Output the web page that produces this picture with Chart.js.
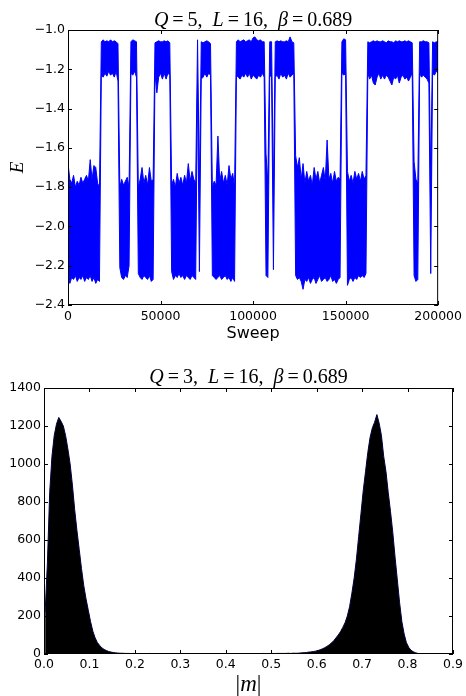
<!DOCTYPE html>
<html>
<head>
<meta charset="utf-8">
<script src="https://cdn.jsdelivr.net/npm/chart.js@4.4.0/dist/chart.umd.min.js"></script>
<style>
  body { margin: 0; background: #fff; }
  canvas { position: absolute; left: 0; }
  #energy { top: 0; }
  #magnet { top: 345px; }
</style>
</head>
<body>
<canvas id="energy" width="466" height="345"></canvas>
<canvas id="magnet" width="466" height="351"></canvas>
<script>
// Q=5 energy trace, read every 1000 sweeps: upper and lower edge of the noisy band
const sweepStep = 1000;
const eTop = [
  -1.68, -1.76, -1.78, -1.74, -1.80, -1.77, -1.79, -1.75, -1.78, -1.76,
  -1.74, -1.77, -1.66, -1.76, -1.69, -1.70, -1.78, -1.80, -1.06, -1.05,
  -1.06, -1.055, -1.06, -1.05, -1.06, -1.055, -1.06, -1.07, -1.80, -1.76,
  -1.79, -1.77, -1.75, -1.80, -1.06, -1.05, -1.055, -1.06, -1.80, -1.76,
  -1.70, -1.78, -1.74, -1.79, -1.70, -1.77, -1.76, -1.065, -1.06, -1.055,
  -1.06, -1.06, -1.055, -1.06, -1.055, -1.065, -1.79, -1.76, -1.80, -1.73,
  -1.78, -1.75, -1.79, -1.74, -1.78, -1.68, -1.77, -1.72, -1.76, -1.78,
  -1.05, -1.80, -1.06, -1.065, -1.06, -1.055, -1.06, -1.07, -1.80, -1.77,
  -1.79, -1.54, -1.77, -1.72, -1.78, -1.74, -1.79, -1.69, -1.76, -1.73,
  -1.80, -1.06, -1.05, -1.06, -1.055, -1.05, -1.06, -1.055, -1.05, -1.06,
  -1.04, -1.035, -1.05, -1.055, -1.05, -1.06, -1.06, -1.63, -1.78, -1.06,
  -1.06, -1.82, -1.06, -1.055, -1.06, -1.055, -1.06, -1.06, -1.055, -1.06,
  -1.035, -1.06, -1.065, -1.64, -1.70, -1.65, -1.76, -1.68, -1.78, -1.72,
  -1.77, -1.74, -1.79, -1.70, -1.76, -1.72, -1.78, -1.74, -1.70, -1.77,
  -1.56, -1.76, -1.73, -1.78, -1.72, -1.77, -1.75, -1.76, -1.06, -1.045,
  -1.05, -1.72, -1.77, -1.74, -1.78, -1.72, -1.76, -1.73, -1.77, -1.72,
  -1.76, -1.74, -1.06, -1.065, -1.06, -1.055, -1.06, -1.055, -1.06, -1.06,
  -1.055, -1.06, -1.065, -1.055, -1.06, -1.06, -1.065, -1.055, -1.06, -1.055,
  -1.06, -1.06, -1.055, -1.06, -1.055, -1.06, -1.065, -1.67, -1.76, -1.78,
  -1.06, -1.06, -1.055, -1.06, -1.06, -1.065, -1.76, -1.06, -1.065, -1.06,
  -1.06
];
const eBottom = [
  -2.25, -2.29, -2.26, -2.27, -2.25, -2.28, -2.26, -2.27, -2.25, -2.28,
  -2.26, -2.27, -2.25, -2.28, -2.26, -2.29, -2.27, -2.28, -1.23, -1.24,
  -1.22, -1.235, -1.21, -1.23, -1.22, -1.24, -1.21, -1.26, -2.21, -2.26,
  -2.27, -2.25, -2.26, -2.20, -1.22, -1.23, -1.21, -1.24, -2.24, -2.26,
  -2.27, -2.25, -2.26, -2.27, -2.25, -2.28, -2.27, -1.22, -1.32, -1.24,
  -1.22, -1.25, -1.22, -1.25, -1.22, -1.23, -2.23, -2.27, -2.25, -2.26,
  -2.24, -2.26, -2.25, -2.27, -2.25, -2.26, -2.27, -2.25, -2.26, -2.27,
  -1.27, -2.23, -1.25, -1.24, -1.22, -1.24, -1.22, -1.23, -2.25, -2.26,
  -2.27, -2.26, -2.25, -2.27, -2.26, -2.25, -2.27, -2.26, -2.28, -2.26,
  -2.28, -1.23, -1.24, -1.25, -1.23, -1.24, -1.22, -1.24, -1.22, -1.25,
  -1.23, -1.24, -1.25, -1.23, -1.24, -1.22, -1.24, -2.25, -2.26, -1.23,
  -1.24, -2.22, -1.24, -1.23, -1.25, -1.22, -1.24, -1.23, -1.25, -1.22,
  -1.24, -1.23, -1.22, -2.25, -2.27, -2.26, -2.28, -2.32, -2.27, -2.28,
  -2.26, -2.29, -2.27, -2.26, -2.29, -2.27, -2.25, -2.28, -2.27, -2.26,
  -2.28, -2.27, -2.25, -2.28, -2.27, -2.29, -2.27, -2.26, -1.22, -1.23,
  -1.22, -2.30, -2.27, -2.26, -2.28, -2.26, -2.27, -2.25, -2.26, -2.25,
  -2.26, -2.24, -1.22, -1.25, -1.23, -1.27, -1.28, -1.24, -1.22, -1.25,
  -1.23, -1.25, -1.23, -1.24, -1.26, -1.28, -1.24, -1.25, -1.23, -1.27,
  -1.24, -1.23, -1.25, -1.24, -1.26, -1.24, -1.22, -2.25, -2.28, -2.27,
  -1.22, -1.24, -1.23, -1.24, -1.25, -1.27, -2.24, -1.22, -1.23, -1.21,
  -1.22
];
const sweep = eTop.map((_, i) => i * sweepStep);

// Q=3 histogram of |m|, bins of width 0.005 from 0 to 0.9
const binWidth = 0.005;
const mCounts = [
  220, 480, 850, 1040, 1150, 1210, 1245, 1225, 1200, 1150,
  1080, 1000, 890, 760, 650, 550, 450, 360, 290, 230,
  170, 120, 85, 60, 45, 32, 24, 18, 13, 10,
  8, 6, 5, 4,
  4, 3, 3, 3, 2, 3, 2, 2, 3, 2,
  2, 2, 3, 2, 2, 2, 1, 2, 2, 2,
  2, 1, 2, 2, 1, 2, 2, 1, 2, 2,
  1, 2, 1, 2, 2, 1, 2, 1, 2, 2,
  1, 2, 2, 1, 2, 2, 1, 2, 2, 2,
  1, 2, 2, 2, 2, 1, 2, 2, 2, 2,
  2, 2, 3, 2, 2, 2, 3, 2, 3, 3,
  3, 3, 3, 4, 3, 4,
  4, 4, 5, 6, 7, 8, 10, 11, 13, 15,
  18, 22, 27, 33, 40, 48, 58, 70, 85, 100,
  118, 140, 165, 200, 250, 320, 400, 500, 620, 740,
  860, 960, 1060, 1140, 1190, 1220, 1260, 1215, 1150, 1040,
  960, 850, 750, 640, 510, 390, 270, 170, 105, 60,
  35, 20, 12, 7, 3, 1,
  0, 0, 0, 0, 0, 0, 0, 0, 0, 0, 0, 0, 0, 0
];
const mBins = mCounts.map((_, i) => +((i + 0.5) * binWidth).toFixed(4));

const BLUE = '#0000ff';
const tickFont = { family: 'DejaVu Sans', size: 12.5 };

// draw a run of upright / italic pieces centred on cx
function drawMath(ctx, segs, cx, y, size) {
  const fonts = segs.map(s => (s.it ? 'italic ' : '') + size + 'px "Liberation Serif"');
  const widths = segs.map((s, i) => { ctx.font = fonts[i]; return ctx.measureText(s.t).width; });
  let x = cx - widths.reduce((a, b) => a + b, 0) / 2;
  segs.forEach((s, i) => {
    ctx.font = fonts[i];
    ctx.fillText(s.t, x, y);
    x += widths[i];
  });
}

// matplotlib-like box: frame, inward ticks on all sides, title and axis labels
const mplFrame = {
  id: 'mplFrame',
  afterDraw(chart, args, opts) {
    const { ctx, chartArea: a, scales } = chart;
    ctx.save();
    ctx.strokeStyle = '#000';
    ctx.lineWidth = 1;
    ctx.beginPath();
    scales.x.ticks.forEach(t => {
      const px = Math.round(scales.x.getPixelForValue(t.value)) + 0.5;
      ctx.moveTo(px, a.bottom); ctx.lineTo(px, a.bottom - 4);
      ctx.moveTo(px, a.top); ctx.lineTo(px, a.top + 4);
    });
    scales.y.ticks.forEach(t => {
      const py = Math.round(scales.y.getPixelForValue(t.value)) + 0.5;
      ctx.moveTo(a.left, py); ctx.lineTo(a.left + 4, py);
      ctx.moveTo(a.right, py); ctx.lineTo(a.right - 4, py);
    });
    ctx.stroke();
    ctx.strokeRect(a.left + 0.5, a.top + 0.5, a.right - a.left - 1, a.bottom - a.top - 1);

    ctx.fillStyle = '#000';
    ctx.textBaseline = 'alphabetic';
    ctx.textAlign = 'left';
    const cx = (a.left + a.right) / 2;
    drawMath(ctx, opts.title, cx, opts.titleY, opts.titleSize);
    if (opts.xMath) {
      drawMath(ctx, opts.xMath, cx, opts.xLabelY, opts.xLabelSize);
    } else {
      ctx.font = opts.xLabelSize + 'px "DejaVu Sans"';
      ctx.textAlign = 'center';
      ctx.fillText(opts.xLabel, cx, opts.xLabelY);
    }
    if (opts.yLabel) {
      ctx.translate(opts.yLabelX, (a.top + a.bottom) / 2);
      ctx.rotate(-Math.PI / 2);
      ctx.textAlign = 'center';
      ctx.textBaseline = 'middle';
      ctx.font = 'italic ' + opts.yLabelSize + 'px "Liberation Serif"';
      ctx.fillText(opts.yLabel, 0, 0);
    }
    ctx.restore();
  }
};

const minus = v => (v < 0 ? '\u2212' : '') + Math.abs(v).toFixed(1);

new Chart(document.getElementById('energy'), {
  type: 'line',
  data: {
    datasets: [
      {
        data: sweep.map((s, i) => ({ x: s, y: eTop[i] })),
        borderColor: BLUE, backgroundColor: BLUE, borderWidth: 1,
        pointRadius: 0, fill: '+1'
      },
      {
        data: sweep.map((s, i) => ({ x: s, y: eBottom[i] })),
        borderColor: BLUE, borderWidth: 1, pointRadius: 0, fill: false
      }
    ]
  },
  options: {
    animation: false, responsive: false, devicePixelRatio: 1,
    layout: { padding: { top: 30, right: 27, left: 0, bottom: 0 } },
    plugins: {
      legend: { display: false }, tooltip: { enabled: false },
      mplFrame: {
        title: [{ t: 'Q', it: 1 }, { t: '\u2009=\u20095,\u2002' }, { t: 'L', it: 1 },
                { t: '\u2009=\u200916,\u2002' }, { t: '\u03b2', it: 1 }, { t: '\u2009=\u20090.689' }],
        titleY: 26, titleSize: 20,
        xLabel: 'Sweep', xLabelY: 338, xLabelSize: 16,
        yLabel: 'E', yLabelX: 18, yLabelSize: 19
      }
    },
    scales: {
      x: {
        type: 'linear', min: 0, max: 200000,
        afterFit: s => { s.height = 40; },
        grid: { display: false, drawTicks: false }, border: { display: false },
        ticks: { stepSize: 50000, padding: 4, font: tickFont, color: '#000', maxRotation: 0,
                 callback: v => String(v) }
      },
      y: {
        min: -2.4, max: -1.0,
        afterFit: s => { s.width = 68; },
        grid: { display: false, drawTicks: false }, border: { display: false },
        ticks: { stepSize: 0.2, padding: 3, font: tickFont, color: '#000', callback: minus }
      }
    }
  },
  plugins: [mplFrame]
});

new Chart(document.getElementById('magnet'), {
  type: 'line',
  data: {
    datasets: [{
      data: mBins.map((m, i) => ({ x: m, y: mCounts[i] })),
      borderColor: '#00003c', backgroundColor: '#000', borderWidth: 1,
      pointRadius: 0, fill: 'origin'
    }]
  },
  options: {
    animation: false, responsive: false, devicePixelRatio: 1,
    layout: { padding: { top: 43, right: 13, left: 0, bottom: 0 } },
    plugins: {
      legend: { display: false }, tooltip: { enabled: false },
      mplFrame: {
        title: [{ t: 'Q', it: 1 }, { t: '\u2009=\u20093,\u2002' }, { t: 'L', it: 1 },
                { t: '\u2009=\u200916,\u2002' }, { t: '\u03b2', it: 1 }, { t: '\u2009=\u20090.689' }],
        titleY: 38, titleSize: 20,
        xMath: [{ t: '|' }, { t: 'm', it: 1 }, { t: '|' }], xLabelY: 346, xLabelSize: 23
      }
    },
    scales: {
      x: {
        type: 'linear', min: 0, max: 0.9,
        afterFit: s => { s.height = 42; },
        grid: { display: false, drawTicks: false }, border: { display: false },
        ticks: { stepSize: 0.1, padding: 3, font: tickFont, color: '#000', maxRotation: 0,
                 callback: v => v.toFixed(1) }
      },
      y: {
        min: 0, max: 1400,
        afterFit: s => { s.width = 44; },
        grid: { display: false, drawTicks: false }, border: { display: false },
        ticks: { stepSize: 200, padding: 3, font: tickFont, color: '#000', callback: v => String(v) }
      }
    }
  },
  plugins: [mplFrame]
});
</script>
</body>
</html>
